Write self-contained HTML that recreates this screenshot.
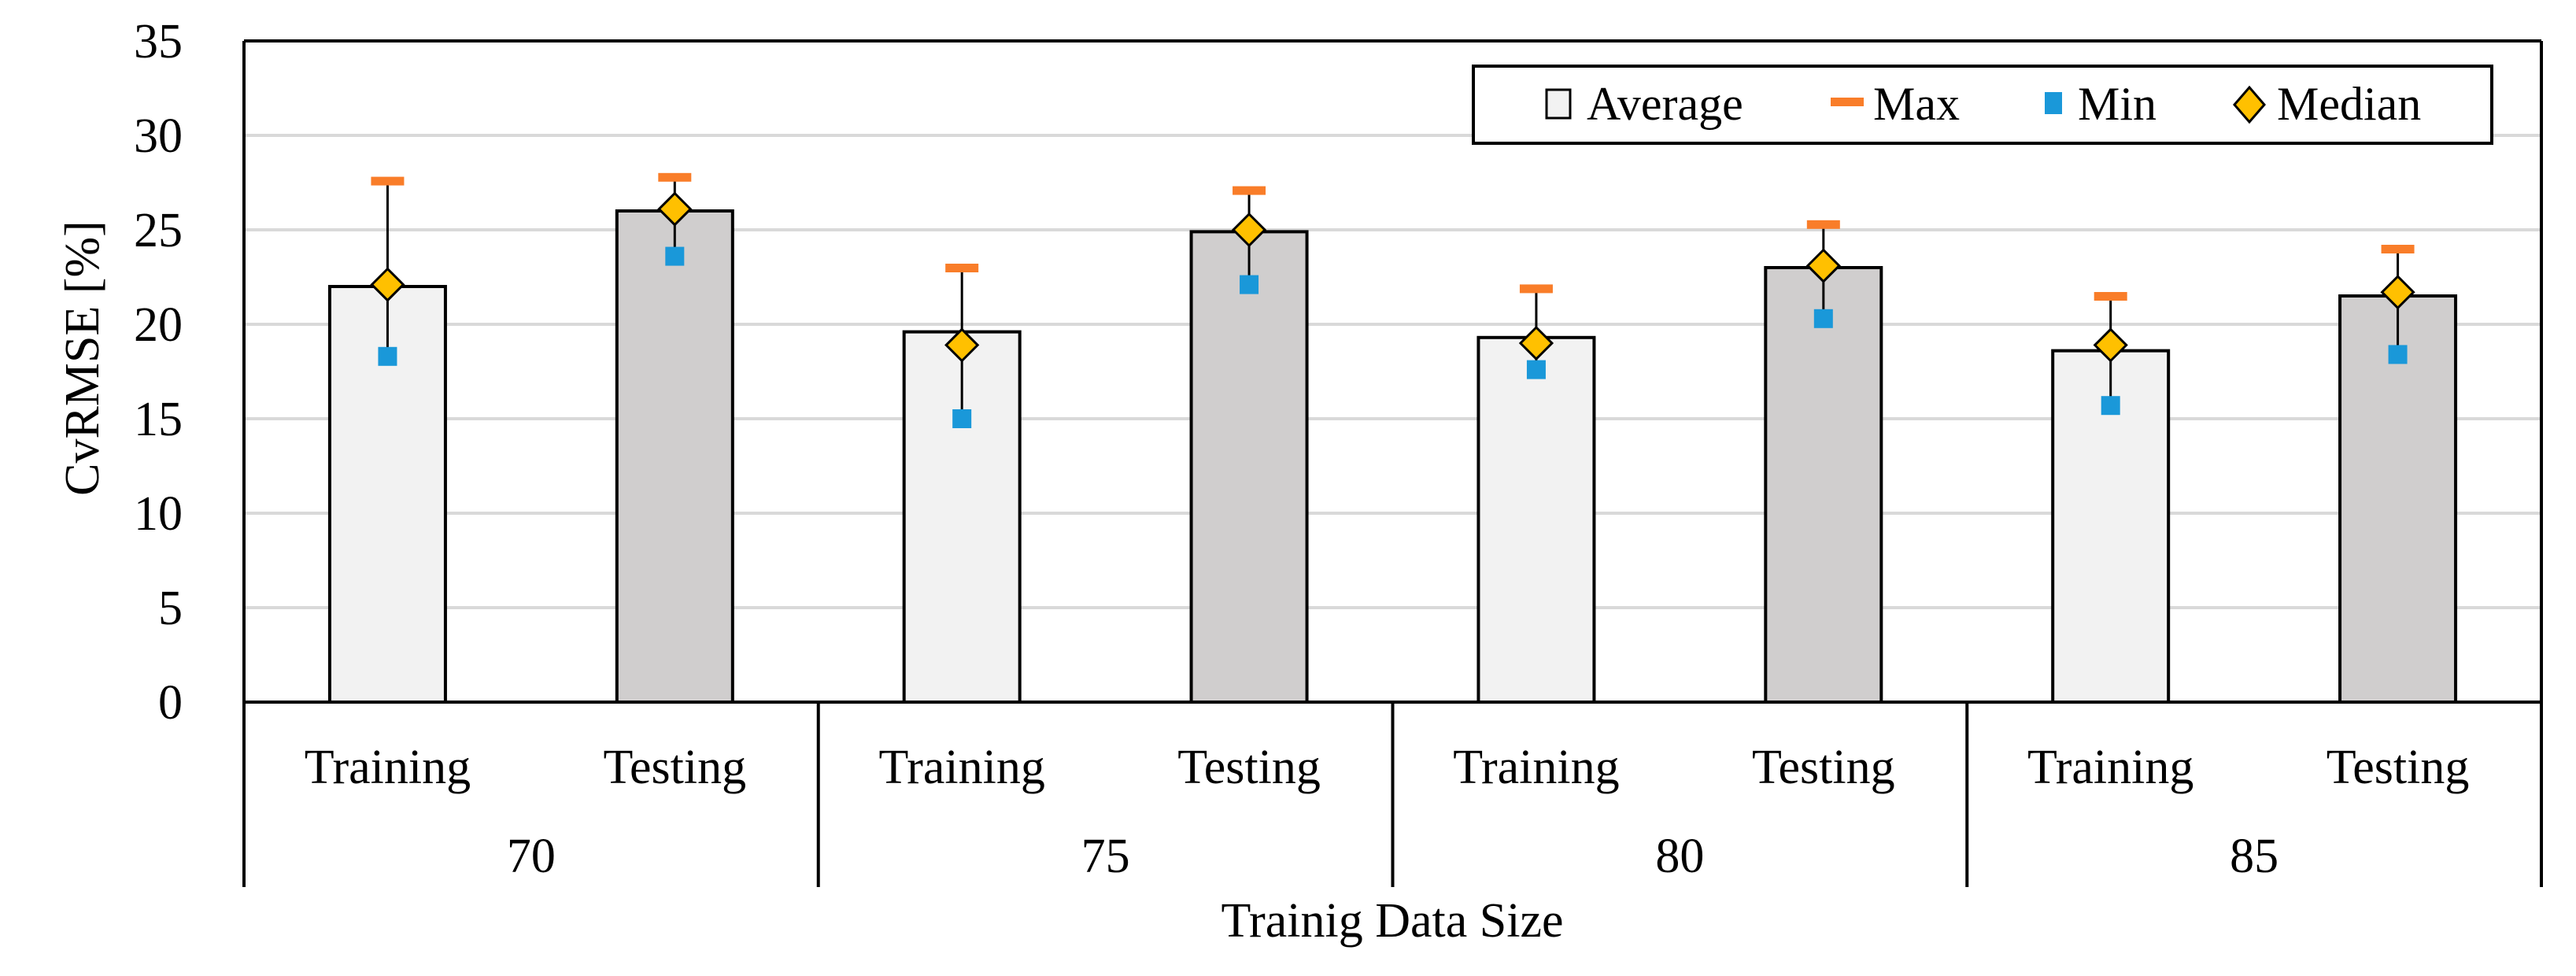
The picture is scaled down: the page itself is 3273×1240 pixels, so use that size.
<!DOCTYPE html>
<html><head><meta charset="utf-8"><style>
body{margin:0;background:#fff}
svg text{font-family:"Liberation Serif",serif;fill:#000}
</style></head><body>
<svg id="chart" width="3273" height="1235" xmlns="http://www.w3.org/2000/svg">
<g id="grid"></g>
<g id="bars"></g>
<g id="axes"></g>
<g id="legend">
<rect x="1872" y="84" width="1294" height="98" fill="#fff" stroke="#000" stroke-width="4"/>
<g><rect x="1965" y="114" width="30" height="36" fill="#f2f2f2" stroke="#000" stroke-width="3"/><text x="2016" y="152" font-size="60">Average</text></g>
<g><rect x="2326" y="124" width="42" height="11" fill="#f97d29"/><text x="2380" y="152" font-size="60">Max</text></g>
<g><rect x="2598" y="117" width="22" height="28" fill="#1a98d9"/><text x="2640" y="152" font-size="60">Min</text></g>
<g><polygon points="2858,111 2877,133 2858,155 2839,133" fill="#ffc000" stroke="#000" stroke-width="3"/><text x="2893" y="152" font-size="60">Median</text></g>
</g>
</svg>
<script>
const groups=["70","75","80","85"];
const cats=["Training","Testing"];
const avgVals=[22.0,26.0,19.6,24.9,19.3,23.0,18.6,21.5];
const maxVals=[27.6,27.8,23.0,27.1,21.9,25.3,21.5,24.0];
const minVals=[18.3,23.6,15.0,22.1,17.6,20.3,15.7,18.4];
const medVals=[22.1,26.1,18.9,25.0,19.0,23.1,18.9,21.7];
const yTicks=[0,5,10,15,20,25,30,35];
const NS="http://www.w3.org/2000/svg";
const L=310,R=3229,T=52,B=892,AB=1127,ymax=35;
const y=v=>B-(B-T)*v/ymax;
const gw=(R-L)/groups.length;
const xc=i=>L+gw*Math.floor(i/2)+gw*(i%2===0?0.25:0.75);
function mk(p,tag,a){const e=document.createElementNS(NS,tag);for(const k in a)e.setAttribute(k,a[k]);p.appendChild(e);return e;}
const grid=document.getElementById('grid'),bars=document.getElementById('bars'),axes=document.getElementById('axes');
yTicks.forEach(t=>{
 if(t>0&&t<ymax){const g=mk(grid,'line',{x1:L,x2:R,y1:y(t),y2:y(t),stroke:'#d9d9d9','stroke-width':4});
 
 }
 const tx=mk(axes,'text',{x:232,y:y(t)+21,'font-size':62,'text-anchor':'end'});tx.textContent=t;
 
 
});
const bw=147;
avgVals.forEach((v,i)=>{
 const x=xc(i);
 const b=mk(bars,'rect',{x:x-bw/2,y:y(v),width:bw,height:B-y(v),fill:i%2?'#d0cece':'#f2f2f2',stroke:'#000','stroke-width':4});
 
 
 const e=mk(bars,'line',{x1:x,x2:x,y1:y(maxVals[i]),y2:y(minVals[i]),stroke:'#000','stroke-width':3});
 
 
 const mx=mk(bars,'rect',{x:x-21,y:y(maxVals[i])-5,width:42,height:11,fill:'#f97d29'});
 
 
 const mn=mk(bars,'rect',{x:x-12,y:y(minVals[i])-12,width:24,height:24,fill:'#1a98d9'});
 
 
 const ym=y(medVals[i]);
 const md=mk(bars,'polygon',{points:`${x},${ym-20} ${x+20},${ym} ${x},${ym+20} ${x-20},${ym}`,fill:'#ffc000',stroke:'#000','stroke-width':3});
 
 
 const cl=mk(axes,'text',{x:x,y:995,'font-size':62,'text-anchor':'middle'});cl.textContent=cats[i%2];
 
 
});
groups.forEach((g,k)=>{
 const t=mk(axes,'text',{x:L+gw*(k+0.5),y:1108,'font-size':62,'text-anchor':'middle'});t.textContent=g;
 
 
});
for(let k=0;k<=groups.length;k++){
 const s=mk(axes,'line',{x1:L+gw*k,x2:L+gw*k,y1:k==0||k==groups.length?T:B,y2:AB,stroke:'#000','stroke-width':4});
 
 
}
const tp=mk(axes,'line',{x1:L,x2:R,y1:T,y2:T,stroke:'#000','stroke-width':4});


const zl=mk(axes,'line',{x1:L,x2:R,y1:B,y2:B,stroke:'#000','stroke-width':4});


const yt=mk(axes,'text',{x:0,y:0,'font-size':62,'text-anchor':'middle',transform:'translate(125,455) rotate(-90)'});yt.textContent='CvRMSE [%]';


const xt=mk(axes,'text',{x:1769,y:1190,'font-size':62,'text-anchor':'middle'});xt.textContent='Trainig Data Size';


</script>
</body></html>
